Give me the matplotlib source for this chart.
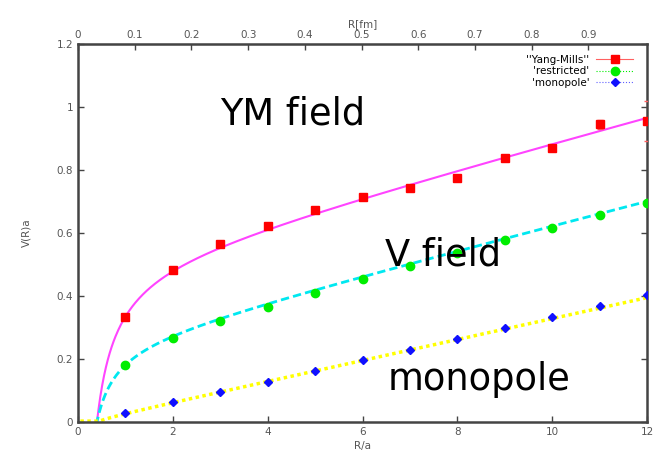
import numpy as np
import matplotlib.pyplot as plt
import matplotlib as mpl
from matplotlib.lines import Line2D

mpl.rcParams.update({
    'font.family': 'DejaVu Sans',
    'font.size': 7,
    'axes.edgecolor': '#444444',
    'xtick.color': '#444444',
    'ytick.color': '#444444',
    'xtick.labelcolor': '#555555',
    'ytick.labelcolor': '#555555',
})

# lattice spacing a in fm (top axis scale)
A_FM = 0.0836

R = [1, 2, 3, 4, 5, 6, 7, 8, 9, 10, 11, 12]
V_ym = [0.334, 0.481, 0.563, 0.621, 0.672, 0.713, 0.743, 0.774, 0.837, 0.869, 0.945, 0.955]
V_ym_err = [0.006, 0.005, 0.005, 0.005, 0.006, 0.006, 0.007, 0.007, 0.009, 0.010, 0.014, 0.063]
V_restr = [0.180, 0.265, 0.321, 0.366, 0.410, 0.453, 0.495, 0.535, 0.576, 0.614, 0.656, 0.696]
V_restr_err = [0.003] * 12
V_mono = [0.028, 0.062, 0.095, 0.127, 0.160, 0.195, 0.228, 0.262, 0.297, 0.332, 0.367, 0.403]
V_mono_err = [0.002] * 12

# Cornell fit parameters V(R) = C - A/R + sigma*R
fit_ym = (0.5005, 0.2066, 0.04015)
fit_restr = (0.246, 0.1046, 0.03856)
fit_mono = (-0.004, 0.004, 0.0332)


def cornell(r, p):
    c, a, s = p
    return c - a / r + s * r


fig = plt.figure(figsize=(6.64, 4.61), dpi=100)
ax = fig.add_axes([0.1175, 0.0852, 0.8569, 0.8194])

r = np.linspace(0.05, 12, 600)
ax.plot(r, cornell(r, fit_ym), color='#ff44ff', lw=1.5, zorder=2)
ax.plot(r, cornell(r, fit_restr), color='#00e8f0', lw=2, ls=(0, (3, 1.5)), zorder=2)
ax.plot(r, np.maximum(cornell(r, fit_mono), 0.002), color='#ffff00', lw=2.5,
        ls=(0, (1, 1)), zorder=2)

ax.errorbar(R, V_ym, yerr=V_ym_err, fmt='s', ms=6, color='#ff0000', ecolor='#ff6060',
            elinewidth=0.8, capsize=2.5, zorder=4)
ax.errorbar(R, V_restr, yerr=V_restr_err, fmt='o', ms=6, color='#00ee00', ecolor='#00ee00',
            elinewidth=0.8, capsize=2.5, zorder=4)
ax.errorbar(R, V_mono, yerr=V_mono_err, fmt='D', ms=4.5, color='#1010ff', ecolor='#6060ff',
            elinewidth=0.8, capsize=2.5, zorder=4)

ax.set_xlim(0, 12)
ax.set_ylim(0, 1.2)
ax.set_xticks(np.arange(0, 13, 2))
ax.set_yticks(np.arange(0, 1.21, 0.2))
ax.set_yticklabels(['0', '0.2', '0.4', '0.6', '0.8', '1', '1.2'])
ax.tick_params(direction='in', length=4, width=1, right=True, labelsize=7.5)
for sp in ax.spines.values():
    sp.set_linewidth(1.8)

ax.set_xlabel('R/a', fontsize=7.5, color='#555555', labelpad=3)
ax.set_ylabel('V(R)a', fontsize=7.5, color='#555555', labelpad=18)

top = ax.secondary_xaxis('top', functions=(lambda x: x * A_FM, lambda f: f / A_FM))
top.set_xticks(np.arange(0, 0.91, 0.1))
top.set_xticklabels(['0', '0.1', '0.2', '0.3', '0.4', '0.5', '0.6', '0.7', '0.8', '0.9'])
top.tick_params(direction='in', length=4, width=1, labelsize=7.5, pad=3)
top.set_xlabel('R[fm]', fontsize=7.5, color='#555555', labelpad=2)

# legend handles: marker on a thin line, gnuplot style
handles = [
    Line2D([], [], color='#ff6060', lw=0.8, ls='-', marker='s', ms=6,
           mfc='#ff0000', mec='#ff0000'),
    Line2D([], [], color='#00ee00', lw=0.8, ls=':', marker='o', ms=6,
           mfc='#00ee00', mec='#00ee00'),
    Line2D([], [], color='#6060ff', lw=0.8, ls=':', marker='D', ms=4.5,
           mfc='#1010ff', mec='#1010ff'),
]
labels = ["''Yang-Mills''", "'restricted'", "'monopole'"]
ax.legend(handles, labels, loc='upper right', bbox_to_anchor=(0.985, 0.985),
          markerfirst=False, frameon=False, fontsize=7.5, handlelength=3.6,
          borderaxespad=0.2, borderpad=0.3, labelspacing=0.15, handletextpad=0.6)

big = dict(fontsize=26.5, family='DejaVu Sans', color='black', zorder=5)
ax.text(3.0, 0.945, 'YM field', **big)
ax.text(6.48, 0.495, 'V field', **big)
ax.text(6.52, 0.10, 'monopole', **big)

fig.savefig('out.png', dpi=100)
